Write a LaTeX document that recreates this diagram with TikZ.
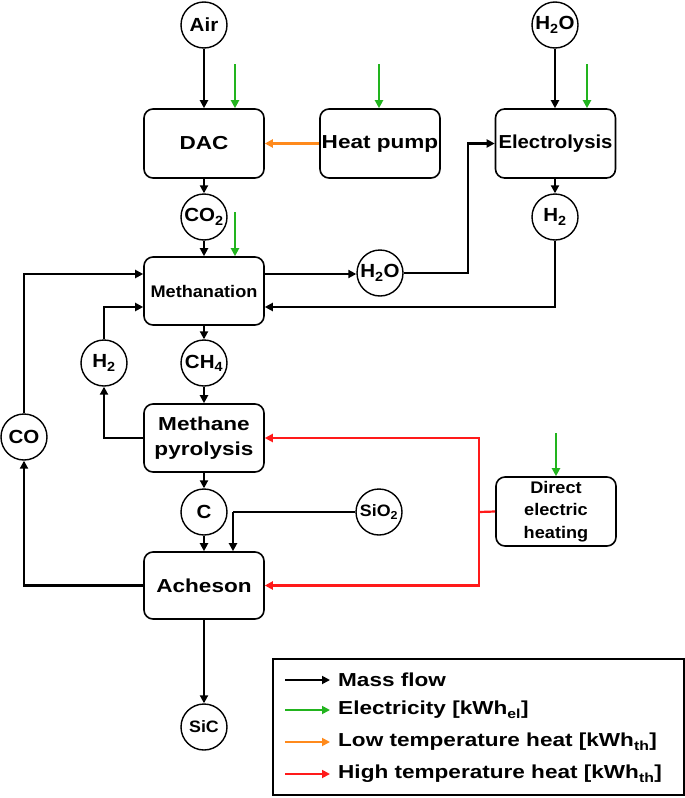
\documentclass[tikz,border=0pt]{standalone}
\usepackage{fontspec}
\setmainfont{Liberation Sans}[FakeStretch=1.08]
\newfontfamily\widefont{Liberation Sans}[FakeStretch=1.2]
\usetikzlibrary{arrows.meta}
\definecolor{elgreen}{HTML}{22B41E}
\definecolor{lowheat}{HTML}{FF8A1C}
\definecolor{highheat}{HTML}{FF1A1A}
\begin{document}
\begin{tikzpicture}[x=1pt,y=-1pt,
  proc/.style={draw, rounded corners=9pt, line width=1.6pt, minimum width=120pt, minimum height=69pt, inner sep=0pt, align=center, font=\widefont\fontsize{18.8}{25}\selectfont\bfseries},
  spec/.style={draw, circle, line width=1.4pt, minimum size=46pt, inner sep=0pt, font=\fontsize{19}{20}\selectfont\bfseries},
  tip/.style={-{Triangle[length=8pt,width=8pt]}},
  mf/.style={line width=2.2pt, tip},
  mline/.style={line width=2.2pt},
  el/.style={line width=2.2pt, elgreen, tip},
  lt/.style={line width=2.2pt, lowheat, tip},
  ht/.style={line width=2.2pt, highheat, tip},
  hline/.style={line width=2.2pt, highheat},
  legtext/.style={anchor=west, inner sep=0pt, font=\widefont\fontsize{18.8}{21}\selectfont\bfseries}
]
\useasboundingbox (0,0) rectangle (685,798);

% species
\node[spec] (air) at (204,25) {Air};
\node[spec] (h2otop) at (555,25) {H\textsubscript{2}O};
\node[spec] (co2) at (204,217) {CO\textsubscript{2}};
\node[spec] (h2r) at (555,217) {H\textsubscript{2}};
\node[spec] (h2omid) at (380,273) {H\textsubscript{2}O};
\node[spec] (h2l) at (104,363) {H\textsubscript{2}};
\node[spec] (ch4) at (204,363) {CH\textsubscript{4}};
\node[spec] (co) at (24,437) {CO};
\node[spec] (c) at (204,512) {C};
\node[spec, font=\fontsize{16.5}{18}\selectfont\bfseries] (sio2) at (379,512) {SiO\textsubscript{2}};
\node[spec, font=\fontsize{16.5}{18}\selectfont\bfseries] (sic) at (204,727) {SiC};

% processes
\node[proc] (dac) at (204,143.5) {DAC};
\node[proc] (hp) at (380,143.5) {Heat pump};
\node[proc, font=\fontsize{18.8}{22}\selectfont\bfseries] (elec) at (555.5,143.5) {Electrolysis};
\node[proc, minimum height=68pt, font=\fontsize{16.8}{20}\selectfont\bfseries] (meth) at (204,291) {Methanation};
\node[proc, minimum height=68pt] (pyro) at (204,438) {Methane\\pyrolysis};
\node[proc, minimum height=67pt] (ach) at (204,585.5) {Acheson};
\node[proc, font=\fontsize{16.8}{22.5}\selectfont\bfseries] (deh) at (556,511.5) {Direct\\electric\\heating};

% helper coordinates
\path (meth.west) ++(0,-17) coordinate (mw1);
\path (meth.west) ++(0,16) coordinate (mw2);
\path (meth.east) ++(0,-17) coordinate (me1);
\path (meth.east) ++(0,16) coordinate (me2);
\coordinate (k1) at (468,273);
\coordinate (s1) at (233,512);
\coordinate (jn) at (479,512);
\coordinate (e1) at (235,64);
\coordinate (e2) at (379,64);
\coordinate (e3) at (587,64);
\coordinate (e4) at (235,212);
\coordinate (e5) at (556,433);

% mass flows
\draw[mf] (air) -- (dac);
\draw[mf] (h2otop) -- (h2otop |- elec.north);
\draw[mf] (dac) -- (co2);
\draw[mf] (co2) -- (meth);
\draw[mf] (elec.south -| h2r) -- (h2r);
\draw[mf] (meth) -- (ch4);
\draw[mf] (ch4) -- (pyro);
\draw[mf] (pyro) -- (c);
\draw[mf] (c) -- (ach);
\draw[mf] (ach) -- (sic);
\draw[mf] (me1) -- (me1 -| h2omid.west);
\draw[mf] (h2omid.east) -- (k1) |- (elec.west);
\draw[mf] (h2r.south) |- (me2);
\draw[mf] (co.north) |- (mw1);
\draw[mf] (h2l.north) |- (mw2);
\draw[mf] (pyro.west) -| (h2l.south);
\draw[mf] (ach.west) -| (co.south);
\draw[mline] (sio2.west) -- (s1);
\draw[mf] (s1) -- (s1 |- ach.north);

% electricity
\draw[el] (e1) -- (e1 |- dac.north);
\draw[el] (e2) -- (e2 |- hp.north);
\draw[el] (e3) -- (e3 |- elec.north);
\draw[el] (e4) -- (e4 |- meth.north);
\draw[el] (e5) -- (e5 |- deh.north);

% heat
\draw[lt] (hp.west) -- (dac.east);
\draw[hline] (deh.west) -- (jn);
\draw[ht] (jn) |- (pyro.east);
\draw[ht] (jn) |- (ach.east);

% legend
\node[draw, line width=1.4pt, minimum width=411pt, minimum height=136pt, inner sep=0pt] (leg) at (478.5,727) {};
\coordinate (l1) at (285,680);
\coordinate (l2) at (285,710);
\coordinate (l3) at (285,742);
\coordinate (l4) at (285,774);
\draw[line width=1.8pt, tip] (l1) -- ++(45,0);
\draw[line width=1.8pt, elgreen, tip] (l2) -- ++(45,0);
\draw[line width=1.8pt, lowheat, tip] (l3) -- ++(45,0);
\draw[line width=1.8pt, highheat, tip] (l4) -- ++(45,0);
\node[legtext] (t1) at (338,680) {Mass flow};
\node[legtext] (t2) at (338,710) {Electricity [kWh\textsubscript{el}]};
\node[legtext] (t3) at (338,742) {Low temperature heat [kWh\textsubscript{th}]};
\node[legtext] (t4) at (338,774) {High temperature heat [kWh\textsubscript{th}]};
\end{tikzpicture}
\end{document}
